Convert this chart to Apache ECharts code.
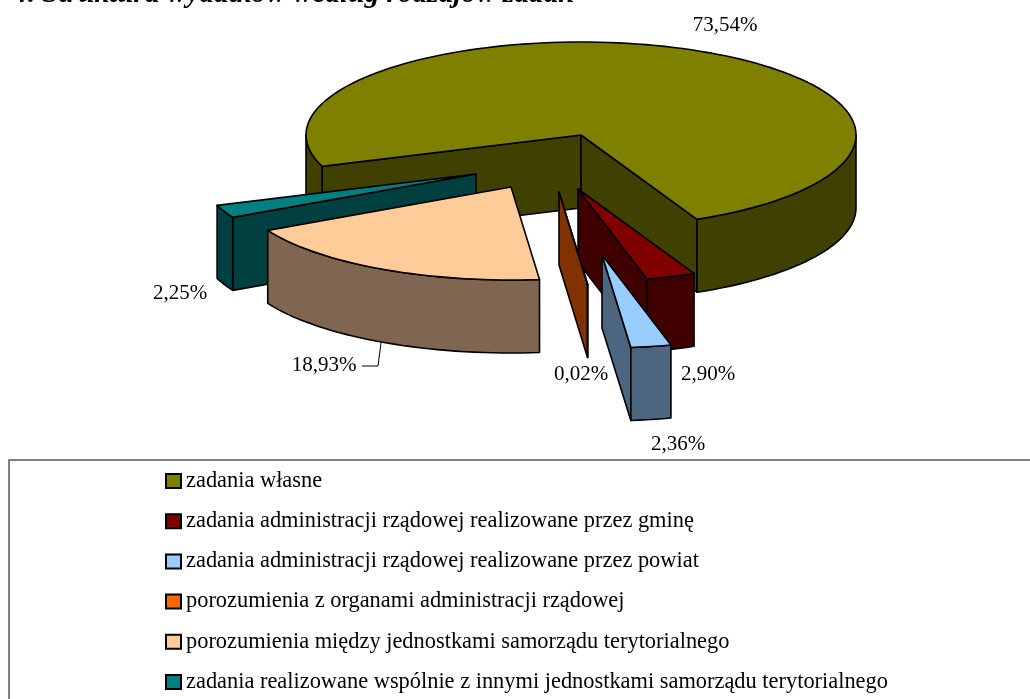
<!DOCTYPE html>
<html>
<head>
<meta charset="utf-8">
<style>
  html, body { margin: 0; padding: 0; background: #fff; }
  #main { width: 1030px; height: 699px; }
</style>
<script src="https://cdn.jsdelivr.net/npm/echarts@6/dist/echarts.min.js"></script>
</head>
<body>
<div id="main"></div>
<script>
// data
const categories = [
  "zadania własne",
  "zadania administracji rządowej realizowane przez gminę",
  "zadania administracji rządowej realizowane przez powiat",
  "porozumienia z organami administracji rządowej",
  "porozumienia między jednostkami samorządu terytorialnego",
  "zadania realizowane wspólnie z innymi jednostkami samorządu terytorialnego",
];
const values = [73.54, 2.9, 2.36, 0.02, 18.93, 2.25];

// colours of the top face and of the walls
const topColors = ["#808000", "#800000", "#99ccff", "#ff6600", "#ffcc99", "#008080"];
const wallColors = ["#404000", "#400000", "#4d6680", "#803300", "#806650", "#004040"];

// layout of the 3d pie
const startAngle = 250.3;
const radiusX = 275;
const radiusY = 93;
const depth = 73;
// apex of every dragged out slice
const apexes = [[581, 135], [578, 189], [602, 255], [559, 192], [511, 187], [476, 174]];
const labelPos = [[725, 25], [708, 374], [678, 444], [581, 374], [324, 365], [180, 293]];
// painting order, back to front
const drawOrder = [1, 4, 6, 5, 7, 3];

function rimPoint(apex, angle, dy) {
  const rad = (angle * Math.PI) / 180;
  return [apex[0] + radiusX * Math.sin(rad), apex[1] - radiusY * Math.cos(rad) + dy];
}

function arcPoints(apex, from, to, dy) {
  const pts = [];
  const steps = Math.max(1, Math.ceil(Math.abs(to - from) / 2));
  for (let i = 0; i <= steps; i++) {
    pts.push(rimPoint(apex, from + ((to - from) * i) / steps, dy));
  }
  return pts;
}

function face(points, fill) {
  return {
    type: "polygon",
    shape: { points: points },
    style: { fill: fill, stroke: "#000", lineWidth: 1.6, lineJoin: "round" },
  };
}

function radialWall(apex, angle, fill) {
  const rim = rimPoint(apex, angle, 0);
  return face(
    [apex, rim, [rim[0], rim[1] + depth], [apex[0], apex[1] + depth]],
    fill
  );
}

function outerWall(apex, from, to, fill) {
  const top = arcPoints(apex, from, to, 0);
  const bottom = arcPoints(apex, from, to, depth).reverse();
  return face(top.concat(bottom), fill);
}

// slice angles come from the values, clockwise from the top
function sliceAngles(index) {
  const total = values.reduce(function (a, b) { return a + b; }, 0);
  let from = startAngle;
  for (let i = 0; i < index; i++) {
    from += (values[i] / total) * 360;
  }
  return [from, from + (values[index] / total) * 360];
}

function renderSlice(index) {
  const angles = sliceAngles(index);
  const a0 = angles[0];
  const a1 = angles[1];
  const apex = apexes[index];
  const wall = wallColors[index];
  const children = [];

  // only the walls turned towards the viewer are drawn
  if (Math.sin((a0 * Math.PI) / 180) < 0) {
    children.push(radialWall(apex, a0, wall));
  }
  if (Math.sin((a1 * Math.PI) / 180) > 0) {
    children.push(radialWall(apex, a1, wall));
  }
  // front half of the rim is 90..270 (+360 for the big slice)
  [90, 450].forEach(function (k) {
    const from = Math.max(a0, k);
    const to = Math.min(a1, k + 180);
    if (to > from) {
      children.push(outerWall(apex, from, to, wall));
    }
  });

  const topPts = [apex].concat(arcPoints(apex, a0, a1, 0));
  children.push(face(topPts, topColors[index]));

  return { type: "group", children: children };
}

function makeSeries(name, index) {
  return {
    name: name,
    type: "custom",
    coordinateSystem: "none",
    z: drawOrder[index],
    itemStyle: { color: topColors[index], borderColor: "#000", borderWidth: 2 },
    data: [[values[index]]],
    silent: true,
    renderItem: function () {
      return renderSlice(index);
    },
  };
}

const labelGraphics = values.map(function (v, i) {
  return {
    type: "text",
    x: labelPos[i][0],
    y: labelPos[i][1],
    z: 20,
    style: {
      text: v.toFixed(2).replace(".", ",") + "%",
      font: "21px 'Liberation Serif'",
      fill: "#000",
      textAlign: "center",
      textVerticalAlign: "middle",
    },
  };
});

var myChart = echarts.init(document.getElementById("main"));

var option = {
  animation: false,
  backgroundColor: "#fff",
  legend: {
    orient: "vertical",
    left: 165,
    top: 470,
    itemWidth: 15,
    itemHeight: 14,
    itemGap: 18.2,
    padding: 0,
    selectedMode: false,
    icon: "rect",
    textStyle: {
      fontFamily: "Liberation Serif",
      fontSize: 22.4,
      color: "#000",
      lineHeight: 21,
    },
    data: categories,
  },
  graphic: [
    {
      type: "text",
      x: 13,
      y: -20,
      style: {
        text: "4. Struktura wydatków według rodzajów zadań",
        font: "italic bold 29.3px 'Liberation Serif'",
        fill: "#000",
      },
    },
    {
      // the box runs off the right and bottom of the page
      type: "rect",
      shape: { x: 9, y: 460, width: 1040, height: 260 },
      style: { fill: "none", stroke: "#808080", lineWidth: 2 },
      z: -1,
    },
    {
      type: "polyline",
      shape: { points: [[362, 366], [378, 366], [381, 343]] },
      style: { fill: "none", stroke: "#000", lineWidth: 1 },
      z: 20,
    },
  ].concat(labelGraphics),
  series: categories.map(makeSeries),
};

myChart.setOption(option);
</script>
</body>
</html>
